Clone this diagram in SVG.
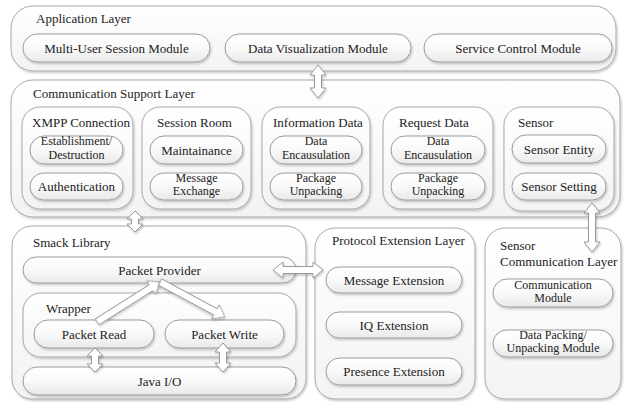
<svg xmlns="http://www.w3.org/2000/svg" width="624" height="402" viewBox="0 0 624 402">
<defs>
<linearGradient id="gLayer" x1="0" y1="0" x2="0" y2="1"><stop offset="0" stop-color="#ffffff"/><stop offset="1" stop-color="#f3f3f3"/></linearGradient>
<linearGradient id="gPill" x1="0" y1="0" x2="0" y2="1"><stop offset="0" stop-color="#ffffff"/><stop offset="0.5" stop-color="#f9f9f9"/><stop offset="1" stop-color="#e9e9e9"/></linearGradient>
<filter id="sh" x="-10%" y="-10%" width="120%" height="130%"><feDropShadow dx="1" dy="1.5" stdDeviation="1.2" flood-color="#000" flood-opacity="0.22"/></filter>
</defs>
<style>
.layer{fill:url(#gLayer);stroke:#a9a9a9;stroke-width:1;filter:url(#sh)}
.sub{fill:url(#gLayer);stroke:#a9a9a9;stroke-width:1;filter:url(#sh)}
.pill{fill:url(#gPill);stroke:#9c9c9c;stroke-width:1;filter:url(#sh)}
.arr{fill:#ffffff;stroke:#9a9a9a;stroke-width:1;stroke-linejoin:miter;filter:url(#sh)}
text{font-family:"Liberation Serif","Times New Roman",serif;font-size:13px;fill:#222}
.c{text-anchor:middle}
.t2{font-size:12px}
</style>

<g id="application-layer">
<rect class="layer" x="11" y="6" width="605" height="65" rx="22"/>
<text x="36" y="23">Application Layer</text>
</g>
<g id="multi-user-session-module"><rect class="pill" x="23" y="34" width="187" height="28" rx="14"/><text class="c" x="116.5" y="52.5">Multi-User Session Module</text></g>
<g id="data-visualization-module"><rect class="pill" x="225" y="34" width="186" height="28" rx="14"/><text class="c" x="318" y="52.5">Data Visualization Module</text></g>
<g id="service-control-module"><rect class="pill" x="424" y="34" width="188" height="28" rx="14"/><text class="c" x="518" y="52.5">Service Control Module</text></g>

<g id="communication-support-layer">
<rect class="layer" x="11" y="80" width="609" height="137" rx="22"/>
<text x="33" y="98">Communication Support Layer</text>
</g>
<g id="xmpp-connection">
<rect class="sub" x="22" y="107" width="111" height="102" rx="18"/>
<text x="32" y="127" textLength="98" lengthAdjust="spacingAndGlyphs">XMPP Connection</text>
<rect class="pill" x="30" y="136" width="93" height="28" rx="14"/>
<text class="c t2" x="76.5" y="145">Establishment/</text><text class="c t2" x="76.5" y="158.5">Destruction</text>
<rect class="pill" x="30" y="173" width="93" height="27" rx="13.5"/>
<text class="c" x="76.5" y="191">Authentication</text>
</g>
<g id="session-room">
<rect class="sub" x="142" y="107" width="109" height="102" rx="18"/>
<text x="157" y="127">Session Room</text>
<rect class="pill" x="150" y="136" width="93" height="28" rx="14"/>
<text class="c" x="196.5" y="154.5">Maintainance</text>
<rect class="pill" x="150" y="173" width="93" height="27" rx="13.5"/>
<text class="c t2" x="196.5" y="181.5">Message</text><text class="c t2" x="196.5" y="195">Exchange</text>
</g>
<g id="information-data">
<rect class="sub" x="262" y="107" width="108" height="102" rx="18"/>
<text x="273" y="127">Information Data</text>
<rect class="pill" x="270" y="136" width="92" height="28" rx="14"/>
<text class="c t2" x="316" y="145">Data</text><text class="c t2" x="316" y="158.5">Encausulation</text>
<rect class="pill" x="270" y="173" width="92" height="27" rx="13.5"/>
<text class="c t2" x="316" y="181.5">Package</text><text class="c t2" x="316" y="195">Unpacking</text>
</g>
<g id="request-data">
<rect class="sub" x="383" y="107" width="110" height="102" rx="18"/>
<text x="399" y="127">Request Data</text>
<rect class="pill" x="391" y="136" width="94" height="28" rx="14"/>
<text class="c t2" x="438" y="145">Data</text><text class="c t2" x="438" y="158.5">Encausulation</text>
<rect class="pill" x="391" y="173" width="94" height="27" rx="13.5"/>
<text class="c t2" x="438" y="181.5">Package</text><text class="c t2" x="438" y="195">Unpacking</text>
</g>
<g id="sensor">
<rect class="sub" x="504" y="107" width="110" height="104" rx="18"/>
<text x="518" y="127">Sensor</text>
<rect class="pill" x="512" y="135" width="94" height="28" rx="14"/>
<text class="c" x="559" y="153.5">Sensor Entity</text>
<rect class="pill" x="512" y="173" width="94" height="27" rx="13.5"/>
<text class="c" x="559" y="191">Sensor Setting</text>
</g>

<g id="smack-library">
<rect class="layer" x="12" y="226" width="294" height="173" rx="20"/>
<text x="33" y="247">Smack Library</text>
</g>
<g id="packet-provider"><rect class="pill" x="23" y="257" width="273" height="26" rx="13"/><text class="c" x="159.5" y="274.5">Packet Provider</text></g>
<g id="wrapper">
<rect class="sub" x="23" y="293" width="273" height="64" rx="18"/>
<text x="46" y="313">Wrapper</text>
</g>
<g id="packet-read"><rect class="pill" x="34" y="320" width="120" height="28" rx="14"/><text class="c" x="94" y="338.5">Packet Read</text></g>
<g id="packet-write"><rect class="pill" x="165" y="320" width="119" height="28" rx="14"/><text class="c" x="224.5" y="338.5">Packet Write</text></g>
<g id="java-io"><rect class="pill" x="23" y="367" width="273" height="28" rx="14"/><text class="c" x="159.5" y="385.5">Java I/O</text></g>

<g id="protocol-extension-layer">
<rect class="layer" x="315" y="228" width="160" height="171" rx="20"/>
<text x="332" y="245">Protocol Extension Layer</text>
</g>
<g id="message-extension"><rect class="pill" x="326" y="267" width="136" height="26" rx="13"/><text class="c" x="394" y="284.5">Message Extension</text></g>
<g id="iq-extension"><rect class="pill" x="326" y="312" width="136" height="26" rx="13"/><text class="c" x="394" y="329.5">IQ Extension</text></g>
<g id="presence-extension"><rect class="pill" x="326" y="358" width="136" height="27" rx="13.5"/><text class="c" x="394" y="376">Presence Extension</text></g>

<g id="sensor-communication-layer">
<rect class="layer" x="485" y="228" width="136" height="171" rx="20"/>
<text x="500" y="250">Sensor</text>
<text x="500" y="266">Communication Layer</text>
</g>
<g id="communication-module"><rect class="pill" x="493" y="279" width="120" height="28" rx="14"/><text class="c t2" x="553" y="288.5">Communication</text><text class="c t2" x="553" y="302">Module</text></g>
<g id="data-packing-module"><rect class="pill" x="493" y="330" width="120" height="27" rx="13.5"/><text class="c t2" x="553" y="338.5">Data Packing/</text><text class="c t2" x="553" y="352">Unpacking Module</text></g>

<g id="connectors">
<path class="arr" transform="translate(318,65)" d="M0,0 L8,10 L3.5,10 L3.5,23 L8,23 L0,33 L-8,23 L-3.5,23 L-3.5,10 L-8,10 Z"/>
<path class="arr" transform="translate(135,211)" d="M0,0 L8,8 L3.5,8 L3.5,13 L8,13 L0,21 L-8,13 L-3.5,13 L-3.5,8 L-8,8 Z"/>
<path class="arr" transform="translate(592,203)" d="M0,0 L8,10 L3.5,10 L3.5,39 L8,39 L0,49 L-8,39 L-3.5,39 L-3.5,10 L-8,10 Z"/>
<path class="arr" transform="translate(95,348)" d="M0,0 L8,8 L3.5,8 L3.5,16 L8,16 L0,24 L-8,16 L-3.5,16 L-3.5,8 L-8,8 Z"/>
<path class="arr" transform="translate(223,343)" d="M0,0 L8,9 L3.5,9 L3.5,20 L8,20 L0,29 L-8,20 L-3.5,20 L-3.5,9 L-8,9 Z"/>
<path class="arr" transform="translate(273,270)" d="M0,0 L10,-8 L10,-3.5 L40,-3.5 L40,-8 L50,0 L40,8 L40,3.5 L10,3.5 L10,8 Z"/>
<path class="arr" transform="translate(97,322) rotate(-32.4)" d="M0,-3.5 L64,-3.5 L64,-8 L74.6,0 L64,8 L64,3.5 L0,3.5 Z"/>
<path class="arr" transform="translate(160,282) rotate(28.3)" d="M0,-3.5 L63,-3.5 L63,-8 L73.8,0 L63,8 L63,3.5 L0,3.5 Z"/>
</g>
</svg>
